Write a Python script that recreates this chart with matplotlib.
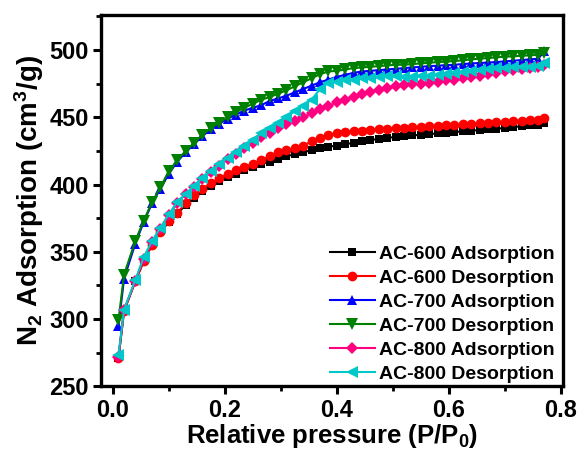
import numpy as np
import matplotlib
matplotlib.use('Agg')
import matplotlib.pyplot as plt

plt.rcParams['font.family'] = ['Liberation Sans', 'DejaVu Sans']
plt.rcParams['font.weight'] = 'bold'
plt.rcParams['mathtext.fontset'] = 'custom'
plt.rcParams['mathtext.rm'] = 'Liberation Sans:bold'
plt.rcParams['mathtext.bf'] = 'Liberation Sans:bold'
plt.rcParams['mathtext.default'] = 'bf'

# relative pressure P/P0 (shared by all curves)
p = [0.01, 0.02, 0.04, 0.055, 0.07, 0.085, 0.10, 0.115, 0.13, 0.145,
     0.16, 0.175, 0.19, 0.205, 0.22, 0.235, 0.25, 0.265, 0.28, 0.295,
     0.31, 0.325, 0.34, 0.355, 0.37, 0.385, 0.40, 0.415, 0.43, 0.445,
     0.46, 0.475, 0.49, 0.505, 0.52, 0.535, 0.55, 0.565, 0.58, 0.595,
     0.61, 0.625, 0.64, 0.655, 0.67, 0.685, 0.70, 0.715, 0.73, 0.745,
     0.76, 0.77]

ac600_ads = [271, 306, 328, 343, 355, 365, 372, 378, 385, 390,
             395, 399, 402.5, 405.5, 408, 410.5, 413, 415, 417, 419,
             421, 422.5, 424, 425.5, 427, 428, 429, 430, 431, 432,
             433, 434, 434.7, 435.3, 436, 436.5, 437, 437.5, 438, 438.5,
             439, 439.5, 440, 440.5, 441, 441.5, 442, 442.7, 443.3, 444,
             444.5, 446]
ac600_des = [271, 306, 328, 343, 355, 365, 373, 379, 386, 392,
             397, 401, 404.5, 408, 411, 413, 415.5, 418, 421, 424,
             425.5, 427, 429, 432, 434.5, 436.5, 438, 439, 439.5, 440,
             440.5, 441, 441.5, 442, 442.3, 442.6, 443, 443.3, 443.7, 444,
             444.4, 444.7, 445, 445.5, 446, 446.3, 446.7, 447, 447.5, 448,
             448, 449.5]
ac700_ads = [295, 330, 356, 372, 386, 397, 408, 417, 424, 430,
             436, 441, 445, 449, 452, 455, 457, 459, 462, 464,
             466, 468.5, 471, 473.5, 476, 478, 480, 481.5, 483, 484,
             484.5, 485, 485.5, 486, 486.5, 487, 487.5, 488, 488.3, 488.7,
             489, 489.5, 490, 490.3, 490.7, 491, 491.5, 492, 492.5, 493,
             493.5, 499]
ac700_des = [299, 333, 358, 373, 387, 398, 410, 418, 425, 431,
             437, 442, 446, 450, 454, 457, 460, 463, 465, 467.5,
             470, 473, 476, 479, 482, 484, 484.5, 485.5, 486.5, 487,
             487.5, 488, 488.5, 489, 489, 489.5, 490, 490.5, 491, 491.3,
             491.8, 492.3, 493, 493.5, 494, 494.5, 495, 495.3, 495.7, 496,
             496.5, 497.5]
ac800_ads = [272, 307, 328, 345, 357, 367, 377, 386, 393, 398,
             404, 409, 414, 419, 423, 427, 431, 435, 438.5, 442,
             445, 447.5, 450, 453, 456, 458.5, 461, 463, 465, 467,
             469, 470.5, 472, 473, 474, 474.5, 475, 475.5, 476.5, 477.5,
             478, 479, 480, 481, 482, 483, 484, 485, 486, 486.5,
             487.5, 488.5]
ac800_des = [273, 307, 329, 346, 358, 368, 378, 387, 393, 399,
             405, 410, 415, 420, 424, 428.5, 433, 438, 442, 446,
             450, 454.5, 458.5, 463, 471, 475.5, 476.5, 477.5, 478, 479,
             479.5, 480, 480.5, 480.5, 480, 480, 480.5, 481, 481.5, 482,
             483, 483.5, 484.5, 485, 486, 486.3, 486.7, 487, 487.3, 487.7,
             488, 490]

labels = ['AC-600 Adsorption', 'AC-600 Desorption', 'AC-700 Adsorption',
          'AC-700 Desorption', 'AC-800 Adsorption', 'AC-800 Desorption']
series = [ac600_ads, ac600_des, ac700_ads, ac700_des, ac800_ads, ac800_des]
colors = ['#000000', '#ff0000', '#0000ff', '#008000', '#ff0080', '#00c8c8']
markers = ['s', 'o', '^', 'v', 'D', '<']
msizes = [6, 7, 7, 8, 6, 8]

fig = plt.figure(figsize=(5.81, 4.54), dpi=100)
ax = fig.add_axes([0.174, 0.149, 0.795, 0.818])

for y, lab, c, m, ms in zip(series, labels, colors, markers, msizes):
    ax.plot(p, y, color=c, marker=m, markersize=ms, linewidth=1.5,
            markeredgewidth=0, label=lab)

ax.set_xlim(-0.021, 0.804)
ax.set_ylim(250, 526)
ax.set_xticks([0.0, 0.2, 0.4, 0.6, 0.8])
ax.set_xticks([0.1, 0.3, 0.5, 0.7], minor=True)
ax.set_yticks([250, 300, 350, 400, 450, 500])
ax.set_yticks([275, 325, 375, 425, 475, 525], minor=True)
ax.tick_params(which='major', direction='out', length=6, width=2.2,
               labelsize=17, pad=3)
ax.tick_params(which='minor', direction='out', length=3.5, width=2)
for s in ax.spines.values():
    s.set_linewidth(2.4)

ax.set_xlabel('Relative pressure (P/P$_0$)', fontsize=18.5, fontweight='bold',
              labelpad=0)
ax.set_ylabel('N$_2$ Adsorption (cm$^3$/g)', fontsize=20, fontweight='bold',
              labelpad=2)

ax.legend(loc='lower right', bbox_to_anchor=(1.008, -0.022), frameon=False,
          handlelength=2.3, handletextpad=0.25, labelspacing=0.33,
          borderaxespad=0.2, prop={'weight': 'bold', 'size': 14})

fig.savefig('out.png', dpi=100)
